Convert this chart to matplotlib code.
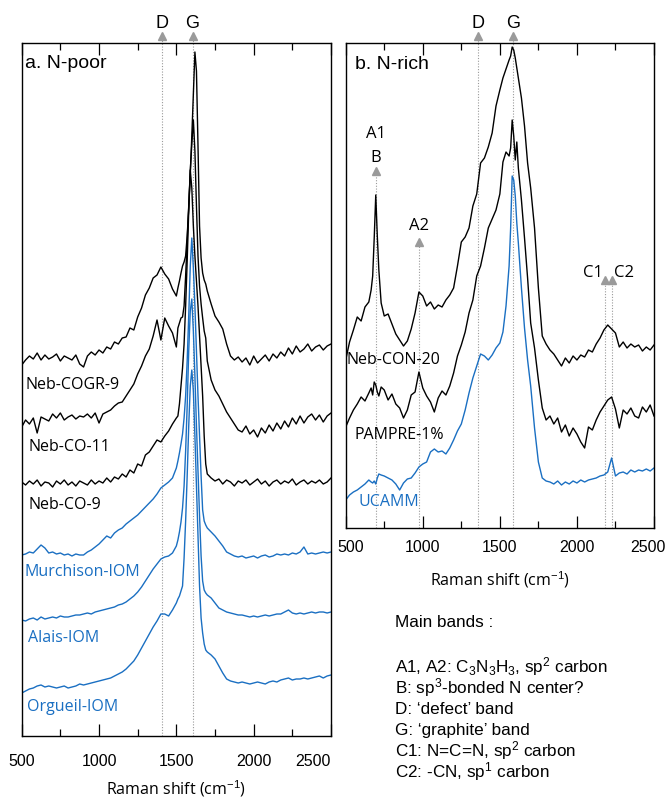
import matplotlib
matplotlib.use("Agg")
import matplotlib.pyplot as plt
from matplotlib.transforms import ScaledTranslation

plt.rcParams["font.family"] = ["Liberation Sans", "DejaVu Sans"]
plt.rcParams["mathtext.fontset"] = "custom"
plt.rcParams["mathtext.rm"] = "Liberation Sans"
plt.rcParams["mathtext.it"] = "Liberation Sans:italic"
plt.rcParams["mathtext.bf"] = "Liberation Sans:bold"

BLUE = "#1a6fc2"
GREY = "#9a9a9a"
LABEL_FONT = ["Open Sans", "DejaVu Sans"]

# ---------------- panel a: N-poor (Raman shift, stacked intensity a.u.)
shift_a = [500, 525, 550, 575, 600, 625, 650, 675, 700, 725,
           750, 775, 800, 825, 850, 875, 900, 925, 950, 975,
           1000, 1025, 1050, 1075, 1100, 1125, 1150, 1175, 1200, 1225,
           1250, 1275, 1300, 1325, 1350, 1375, 1400, 1425, 1450, 1475,
           1500, 1510, 1520, 1530, 1540, 1550, 1560, 1570, 1580, 1590,
           1600, 1610, 1620, 1630, 1640, 1650, 1660, 1670, 1680, 1690,
           1700, 1725, 1750, 1775, 1800, 1825, 1850, 1875, 1900, 1925,
           1950, 1975, 2000, 2025, 2050, 2075, 2100, 2125, 2150, 2175,
           2200, 2225, 2250, 2275, 2300, 2325, 2350, 2375, 2400, 2425,
           2450, 2475, 2500]

neb_cogr9 = [371, 376, 380, 377, 383, 376, 381, 377, 379, 382,
             375, 380, 378, 376, 381, 372, 369, 380, 384, 381,
             386, 383, 389, 387, 394, 392, 398, 399, 408, 406,
             419, 428, 441, 448, 458, 461, 469, 462, 457, 447,
             440, 448, 455, 463, 470, 474, 480, 500, 528, 562,
             600, 642, 684, 665, 590, 510, 478, 463, 456, 452,
             445, 432, 420, 414, 407, 392, 380, 376, 379, 374,
             378, 371, 380, 373, 377, 381, 375, 382, 378, 384,
             380, 388, 382, 390, 384, 387, 392, 385, 389, 391,
             386, 390, 392]

neb_co11 = [309, 316, 312, 318, 303, 319, 317, 315, 322, 318,
            323, 316, 319, 321, 317, 320, 319, 322, 318, 323,
            313, 322, 324, 326, 330, 333, 334, 340, 346, 352,
            362, 370, 380, 387, 400, 416, 396, 418, 410, 403,
            389, 408, 413, 418, 419, 430, 460, 495, 530, 565,
            592, 616, 585, 530, 480, 450, 432, 418, 405, 398,
            375, 356, 346, 340, 332, 324, 318, 312, 306, 304,
            310, 302, 306, 299, 308, 303, 311, 305, 313, 307,
            315, 309, 318, 312, 320, 313, 319, 322, 316, 321,
            314, 320, 323]

neb_co9 = [254, 251, 255, 252, 256, 250, 254, 253, 249, 255,
           252, 256, 251, 254, 250, 255, 253, 251, 256, 252,
           255, 253, 258, 254, 259, 257, 262, 259, 266, 263,
           272, 270, 281, 284, 290, 296, 294, 300, 305, 312,
           318, 320, 332, 350, 368, 392, 430, 475, 525, 566,
           548, 510, 480, 455, 430, 400, 370, 340, 300, 272,
           262, 258, 255, 257, 252, 256, 254, 250, 255, 253,
           256, 251, 254, 257, 252, 255, 250, 254, 256, 252,
           255, 253, 257, 251, 254, 256, 252, 255, 253, 256,
           252, 254, 258]

murchison = [181, 182, 184, 183, 187, 191, 188, 183, 184, 182,
             183, 181, 182, 180, 182, 181, 181, 184, 186, 189,
             192, 196, 200, 198, 203, 206, 208, 212, 215, 218,
             221, 225, 229, 233, 237, 242, 248, 251, 254, 258,
             268, 275, 283, 292, 302, 318, 340, 375, 420, 470,
             498, 468, 430, 385, 340, 300, 260, 226, 215, 211,
             208, 204, 200, 195, 190, 184, 182, 180, 179, 180,
             178, 179, 180, 178, 180, 181, 179, 180, 182, 181,
             182, 181, 183, 182, 184, 189, 182, 183, 182, 183,
             184, 183, 184]

alais = [116, 115, 117, 118, 116, 119, 117, 118, 119, 118,
         120, 119, 119, 120, 121, 121, 122, 123, 122, 124,
         125, 126, 127, 128, 129, 131, 132, 134, 137, 140,
         144, 149, 155, 161, 167, 172, 177, 179, 180, 183,
         190, 196, 204, 214, 228, 250, 285, 330, 385, 425,
         437, 405, 360, 310, 265, 220, 180, 155, 146, 143,
         141, 138, 133, 128, 126, 124, 123, 122, 121, 121,
         120, 119, 120, 119, 120, 121, 120, 121, 122, 122,
         124, 126, 123, 122, 123, 122, 123, 124, 123, 124,
         124, 123, 124]

orgueil = [43, 45, 47, 48, 50, 51, 49, 50, 49, 48,
           49, 50, 48, 49, 50, 52, 51, 52, 53, 54,
           55, 56, 57, 58, 60, 62, 64, 67, 71, 75,
           81, 88, 95, 102, 109, 115, 122, 122, 120, 126,
           133, 137, 140, 145, 150, 178, 215, 260, 310, 350,
           366, 345, 300, 250, 200, 150, 118, 103, 92, 86,
           84, 81, 77, 70, 63, 57, 55, 54, 53, 54,
           53, 52, 53, 54, 53, 52, 54, 55, 54, 56,
           57, 58, 56, 57, 57, 58, 57, 58, 59, 60,
           58, 60, 61]

names_a = ["Neb-COGR-9", "Neb-CO-11", "Neb-CO-9",
           "Murchison-IOM", "Alais-IOM", "Orgueil-IOM"]
colors_a = ["black", "black", "black", BLUE, BLUE, BLUE]

# ---------------- panel b: N-rich
shift_b = [500, 525, 550, 575, 600, 625, 650, 665, 675, 685,
           695, 705, 715, 730, 750, 775, 800, 825, 850, 875,
           900, 925, 950, 975, 1000, 1025, 1050, 1075, 1100, 1125,
           1150, 1175, 1200, 1225, 1250, 1275, 1300, 1325, 1350, 1375,
           1400, 1425, 1450, 1475, 1500, 1520, 1540, 1560, 1570, 1580,
           1590, 1600, 1610, 1620, 1640, 1660, 1680, 1700, 1725, 1750,
           1775, 1800, 1825, 1850, 1875, 1900, 1925, 1950, 1975, 2000,
           2025, 2050, 2075, 2100, 2125, 2150, 2175, 2200, 2225, 2250,
           2275, 2300, 2325, 2350, 2375, 2400, 2425, 2450, 2475, 2500]

neb_con20 = [168, 186, 198, 211, 207, 221, 226, 238, 252, 290,
             333, 292, 258, 225, 212, 214, 204, 194, 188, 182,
             187, 199, 215, 236, 232, 222, 226, 219, 223, 221,
             228, 233, 240, 262, 286, 291, 300, 322, 334, 365,
             370, 381, 395, 422, 438, 450, 459, 468, 472, 481,
             478, 470, 460, 450, 430, 402, 365, 340, 300, 240,
             192, 184, 178, 174, 168, 162, 170, 165, 172, 168,
             173, 171, 178, 176, 184, 190, 198, 203, 199, 195,
             181, 186, 180, 184, 181, 183, 177, 181, 178, 183]

pampre = [101, 110, 118, 124, 131, 127, 135, 140, 133, 146,
          143, 136, 132, 141, 138, 128, 134, 124, 120, 110,
          118, 133, 136, 156, 140, 132, 126, 116, 130, 137,
          133, 142, 155, 172, 183, 196, 215, 228, 252, 262,
          280, 300, 309, 318, 334, 366, 376, 372, 380, 408,
          392, 368, 386, 360, 328, 290, 250, 205, 180, 148,
          120, 108, 112, 104, 110, 96, 103, 92, 100, 94,
          86, 80, 101, 98, 108, 116, 122, 128, 131, 119,
          100, 118, 114, 120, 112, 110, 121, 116, 123, 112]

ucamm = [28, 33, 36, 38, 41, 44, 48, 46, 45, 47,
         44, 50, 54, 53, 52, 50, 48, 44, 38, 45,
         49, 50, 55, 61, 64, 66, 76, 79, 76, 77,
         74, 80, 88, 97, 104, 118, 135, 150, 162, 174,
         172, 168, 173, 180, 185, 196, 222, 262, 300, 352,
         348, 332, 305, 285, 240, 200, 168, 142, 100, 66,
         50, 47, 46, 44, 47, 43, 46, 44, 47, 45,
         48, 46, 48, 49, 50, 52, 53, 56, 70, 52,
         55, 56, 54, 58, 56, 58, 57, 59, 57, 60]

names_b = ["Neb-CON-20", "PAMPRE-1%", "UCAMM"]
colors_b = ["black", "black", BLUE]

# band positions (cm-1)
bands_a = ["D", "G"]
bands_a_pos = [1405, 1605]
bands_b = ["A1/B", "A2", "D", "G", "C1", "C2"]
bands_b_pos = [694, 977, 1360, 1588, 2185, 2228]

legend_lines = ["A1, A2: C$_3$N$_3$H$_3$, sp$^2$ carbon",
                "B: sp$^3$-bonded N center?",
                "D: \u2018defect\u2019 band",
                "G: \u2018graphite\u2019 band",
                "C1: N=C=N, sp$^2$ carbon",
                "C2: -CN, sp$^1$ carbon"]

W, H = 668, 798
fig = plt.figure(figsize=(W / 100, H / 100), dpi=100)
ax_a = fig.add_axes([21.7 / W, 1 - 736 / H, 309.3 / W, 693 / H])
ax_b = fig.add_axes([345.7 / W, 1 - 528 / H, 308.3 / W, 485 / H])
ax_a.set_ylim(0, 693)
ax_b.set_ylim(0, 485)

for ax in (ax_a, ax_b):
    ax.set_xlim(500, 2500)
    ax.set_xticks([500, 1000, 1500, 2000, 2500])
    ax.set_xticks([750, 1250, 1750, 2250], minor=True)
    ax.tick_params(axis="x", which="both", direction="in", top=True,
                   bottom=True, width=0.9, labelsize=11.5)
    ax.tick_params(axis="x", which="major", length=8.5)
    ax.tick_params(axis="x", which="minor", length=5)
    ax.set_yticks([])
    for s in ax.spines.values():
        s.set_linewidth(1.0)
    ax.set_xlabel("Raman shift (cm$^{-1}$)", fontsize=11.5,
                  family=LABEL_FONT)

ax_a.tick_params(axis="x", pad=13)
ax_b.tick_params(axis="x", pad=9)
ax_a.xaxis.labelpad = 7
ax_b.xaxis.labelpad = 10

# nudge the end tick labels inwards, as in the original
labs_a = ax_a.get_xticklabels()
labs_a[-1].set_horizontalalignment("right")
labs_b = ax_b.get_xticklabels()
labs_b[0].set_transform(labs_b[0].get_transform()
                        + ScaledTranslation(0.05, 0, fig.dpi_scale_trans))
labs_b[-1].set_transform(labs_b[-1].get_transform()
                         + ScaledTranslation(-0.06, 0, fig.dpi_scale_trans))


# dotted band markers with arrowheads
def band_marker(ax, x, ytop):
    ax.plot([x, x], [0, ytop], color=GREY, lw=0.8, ls=(0, (1, 1.5)),
            clip_on=False, zorder=1)
    ax.plot([x], [ytop], marker="^", ms=5.5, color=GREY, mec=GREY,
            clip_on=False, zorder=3)


for name, x in zip(bands_a, bands_a_pos):
    band_marker(ax_a, x, 700)
    ax_a.text(x, 708, name, ha="center", va="baseline", fontsize=13)

tops_b = [357, 286, 492, 492, 248, 248]
for name, x, yt in zip(bands_b, bands_b_pos, tops_b):
    band_marker(ax_b, x, yt)
ax_b.text(694, 390, "A1", ha="center", va="baseline", fontsize=12, family=LABEL_FONT)
ax_b.text(694, 366, "B", ha="center", va="baseline", fontsize=12, family=LABEL_FONT)
ax_b.text(977, 298, "A2", ha="center", va="baseline", fontsize=12, family=LABEL_FONT)
ax_b.text(1360, 500, "D", ha="center", va="baseline", fontsize=13)
ax_b.text(1588, 500, "G", ha="center", va="baseline", fontsize=13)
ax_b.text(2170, 251, "C1", ha="right", va="baseline", fontsize=12, family=LABEL_FONT)
ax_b.text(2240, 251, "C2", ha="left", va="baseline", fontsize=12, family=LABEL_FONT)

# spectra
for y, c in zip([neb_cogr9, neb_co11, neb_co9, murchison, alais, orgueil], colors_a):
    ax_a.plot(shift_a, y, color=c, lw=1.0, zorder=2)
for y, c in zip([neb_con20, pampre, ucamm], colors_b):
    ax_b.plot(shift_b, y, color=c, lw=1.0, zorder=2)

# sample names
pos_a = [(522, 351), (541, 289), (541, 231), (521, 164), (541, 98), (534, 29)]
for name, c, (x, y) in zip(names_a, colors_a, pos_a):
    ax_a.text(x, y, name, color=c, fontsize=11.5, family=LABEL_FONT,
              ha="left", va="center")
pos_b = [(508, 168), (560, 93), (586, 26)]
for name, c, (x, y) in zip(names_b, colors_b, pos_b):
    ax_b.text(x, y, name, color=c, fontsize=11.5, family=LABEL_FONT,
              ha="left", va="center")

ax_a.text(0.012, 0.982, "a. N-poor", transform=ax_a.transAxes,
          fontsize=14, va="top", ha="left")
ax_b.text(0.03, 0.974, "b. N-rich", transform=ax_b.transAxes,
          fontsize=14, va="top", ha="left")

fig.text(395 / W, 1 - 627 / H, "Main bands :", fontsize=12.3, va="baseline")
for i, line in enumerate(legend_lines):
    fig.text(395 / W, 1 - (672 + 21 * i) / H, line, fontsize=12.3,
             va="baseline")

fig.savefig("out.png", dpi=100)
